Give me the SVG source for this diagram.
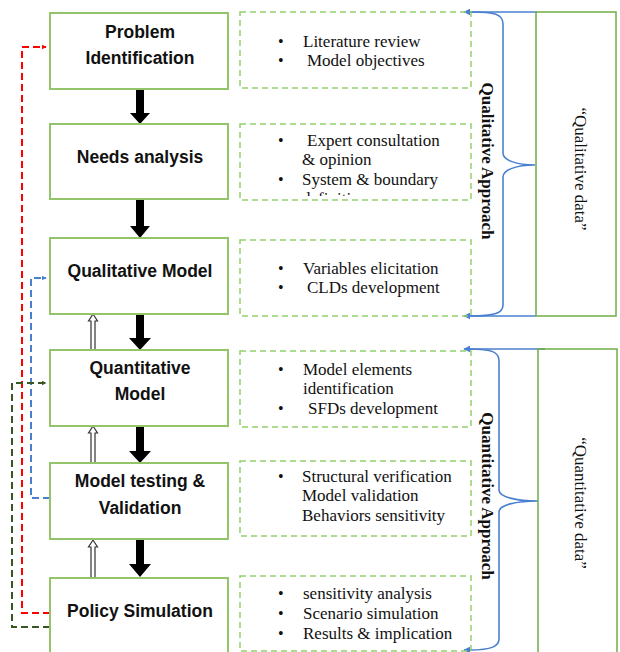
<svg xmlns="http://www.w3.org/2000/svg" width="620" height="652" viewBox="0 0 620 652">
<style>
.box{fill:#fff;stroke:#93c46a;stroke-width:2}
.dbox{fill:none;stroke:#92d06b;stroke-width:1.5;stroke-dasharray:6,4}
.rbox{fill:none;stroke:#70ad47;stroke-width:1.5}
.lbl{font-family:"Liberation Sans",Arial,sans-serif;font-weight:bold;font-size:17.5px;fill:#111;text-anchor:middle}
.tx{font-family:"Liberation Serif","Times New Roman",serif;font-size:17px;fill:#111}
.bul{font-family:"Liberation Serif","Times New Roman",serif;font-size:16px;fill:#111}
.vt{font-family:"Liberation Serif","Times New Roman",serif;font-size:17px;fill:#111;text-anchor:middle}
.blk{fill:#000}
.hol{fill:#fff;stroke:#333;stroke-width:1.2}
.brace{fill:none;stroke:#4a7fd0;stroke-width:1.6}
</style>
<defs>
<marker id="mr" viewBox="0 0 10 10" refX="9" refY="5" markerWidth="5" markerHeight="5" orient="auto" markerUnits="userSpaceOnUse"><path d="M0,0 L10,5 L0,10 Z" fill="#ff0000"/></marker>
<marker id="mb" viewBox="0 0 10 10" refX="9" refY="5" markerWidth="5" markerHeight="5" orient="auto" markerUnits="userSpaceOnUse"><path d="M0,0 L10,5 L0,10 Z" fill="#4a7fd0"/></marker>
<marker id="mg" viewBox="0 0 10 10" refX="9" refY="5" markerWidth="5" markerHeight="5" orient="auto" markerUnits="userSpaceOnUse"><path d="M0,0 L10,5 L0,10 Z" fill="#385723"/></marker>
<marker id="mbr" viewBox="0 0 10 10" refX="9" refY="5" markerWidth="7" markerHeight="7" orient="auto" markerUnits="userSpaceOnUse"><path d="M0,0 L10,5 L0,10 Z" fill="#4a7fd0"/></marker>
<clipPath id="clipdef"><rect x="240" y="186" width="230" height="10"/></clipPath>
</defs>

<g id="connectors">
  <polygon class="blk" points="136,89 144,89 144,113 150,113 140,124 130,113 136,113"/>
  <polygon class="blk" points="136,199 144,199 144,226 150,226 140,238 130,226 136,226"/>
  <polygon class="blk" points="136,314 144,314 144,338 151,338 140,350 129,338 136,338"/>
  <polygon class="blk" points="136,426 144,426 144,451 151,451 140,463 129,451 136,451"/>
  <polygon class="blk" points="136,539 144,539 144,564 151,564 140,577 129,564 136,564"/>
  <polygon class="hol" points="91,350 95,350 95,321 97.5,321 93,314 88.5,321 91,321"/>
  <polygon class="hol" points="91,463 95,463 95,433 97.5,433 93,426 88.5,433 91,433"/>
  <polygon class="hol" points="91,578 95,578 95,547 97.5,547 93,540 88.5,547 91,547"/>
  <path d="M50,613 L22,613 L22,47 L46,47" fill="none" stroke="#ff0000" stroke-width="2" stroke-dasharray="7,4" marker-end="url(#mr)"/>
  <path d="M50,498 L31,498 L31,278 L46,278" fill="none" stroke="#4a7fd0" stroke-width="2" stroke-dasharray="7,4" marker-end="url(#mb)"/>
  <path d="M50,627 L12,627 L12,383 L46,383" fill="none" stroke="#385723" stroke-width="2" stroke-dasharray="7,4" marker-end="url(#mg)"/>
  <path class="brace" d="M537,12 L464,12" marker-end="url(#mbr)"/>
  <path class="brace" d="M470,12 C495,12 503,14 503,24 L503,153 C503,160 516,165 535,165 C516,165 503,170 503,177 L503,305 C503,313 495,316 470,316"/>
  <path class="brace" d="M536,316 L464,316" marker-end="url(#mbr)"/>
  <path class="brace" d="M545,349 L464,349" marker-end="url(#mbr)"/>
  <path class="brace" d="M470,349 C492,349 499,352 499,361 L499,490 C499,497 516,501 538,501 C516,501 499,505 499,512 L499,639 C499,646 492,650 470,650"/>
  <path class="brace" d="M472,650 L464,650" marker-end="url(#mbr)"/>
</g>

<g id="problem-identification">
  <rect class="box" x="50" y="13" width="178" height="76"/>
  <text class="lbl" x="140" y="38">Problem</text>
  <text class="lbl" x="140" y="64">Identification</text>
</g>
<g id="needs-analysis">
  <rect class="box" x="50" y="124" width="178" height="75"/>
  <text class="lbl" x="140" y="163">Needs analysis</text>
</g>
<g id="qualitative-model">
  <rect class="box" x="50" y="238" width="178" height="76"/>
  <text class="lbl" x="140" y="277">Qualitative Model</text>
</g>
<g id="quantitative-model">
  <rect class="box" x="50" y="350" width="178" height="76"/>
  <text class="lbl" x="140" y="374">Quantitative</text>
  <text class="lbl" x="140" y="400">Model</text>
</g>
<g id="model-testing">
  <rect class="box" x="50" y="463" width="178" height="76"/>
  <text class="lbl" x="140" y="487">Model testing &amp;</text>
  <text class="lbl" x="140" y="514">Validation</text>
</g>
<g id="policy-simulation">
  <rect class="box" x="50" y="578" width="178" height="90"/>
  <text class="lbl" x="140" y="617">Policy Simulation</text>
</g>

<g id="detail-problem">
  <rect class="dbox" x="240" y="12" width="231" height="76"/>
  <text class="bul" x="278" y="47">•</text><text class="tx" x="303" y="47">Literature review</text>
  <text class="bul" x="278" y="66">•</text><text class="tx" x="307" y="66">Model objectives</text>
</g>
<g id="detail-needs">
  <rect class="dbox" x="240" y="124" width="231" height="76"/>
  <text class="bul" x="278" y="146">•</text><text class="tx" x="307" y="146">Expert consultation</text>
  <text class="tx" x="302" y="165">&amp; opinion</text>
  <text class="bul" x="278" y="185">•</text><text class="tx" x="302" y="185">System &amp; boundary</text>
  <text class="tx" x="302" y="204" clip-path="url(#clipdef)">definition</text>
</g>
<g id="detail-qualitative">
  <rect class="dbox" x="240" y="240" width="231" height="76"/>
  <text class="bul" x="278" y="274">•</text><text class="tx" x="303" y="274">Variables elicitation</text>
  <text class="bul" x="278" y="293">•</text><text class="tx" x="307" y="293">CLDs development</text>
</g>
<g id="detail-quantitative">
  <rect class="dbox" x="240" y="351" width="231" height="76"/>
  <text class="bul" x="278" y="375">•</text><text class="tx" x="303" y="375">Model elements</text>
  <text class="tx" x="303" y="394">identification</text>
  <text class="bul" x="278" y="414">•</text><text class="tx" x="308" y="414">SFDs development</text>
</g>
<g id="detail-testing">
  <rect class="dbox" x="240" y="461" width="231" height="75"/>
  <text class="bul" x="278" y="482">•</text><text class="tx" x="302" y="482">Structural verification</text>
  <text class="tx" x="302" y="501">Model validation</text>
  <text class="tx" x="302" y="521">Behaviors sensitivity</text>
</g>
<g id="detail-policy">
  <rect class="dbox" x="240" y="576" width="231" height="75"/>
  <text class="bul" x="278" y="599">•</text><text class="tx" x="303" y="599">sensitivity analysis</text>
  <text class="bul" x="278" y="619">•</text><text class="tx" x="303" y="619">Scenario simulation</text>
  <text class="bul" x="278" y="639">•</text><text class="tx" x="303" y="639">Results &amp; implication</text>
</g>

<g id="qualitative-approach">
  <text class="vt" font-weight="bold" transform="translate(482,161) rotate(90)">Qualitative Approach</text>
</g>
<g id="qualitative-data">
  <rect class="rbox" x="536" y="12" width="80" height="304"/>
  <text class="vt" transform="translate(575,169) rotate(90)">“Qualitative data”</text>
</g>
<g id="quantitative-approach">
  <text class="vt" font-weight="bold" transform="translate(482,496) rotate(90)">Quantitative Approach</text>
</g>
<g id="quantitative-data">
  <rect class="rbox" x="538" y="349" width="79" height="320"/>
  <text class="vt" transform="translate(575,503) rotate(90)">“Quantitative data”</text>
</g>
</svg>
